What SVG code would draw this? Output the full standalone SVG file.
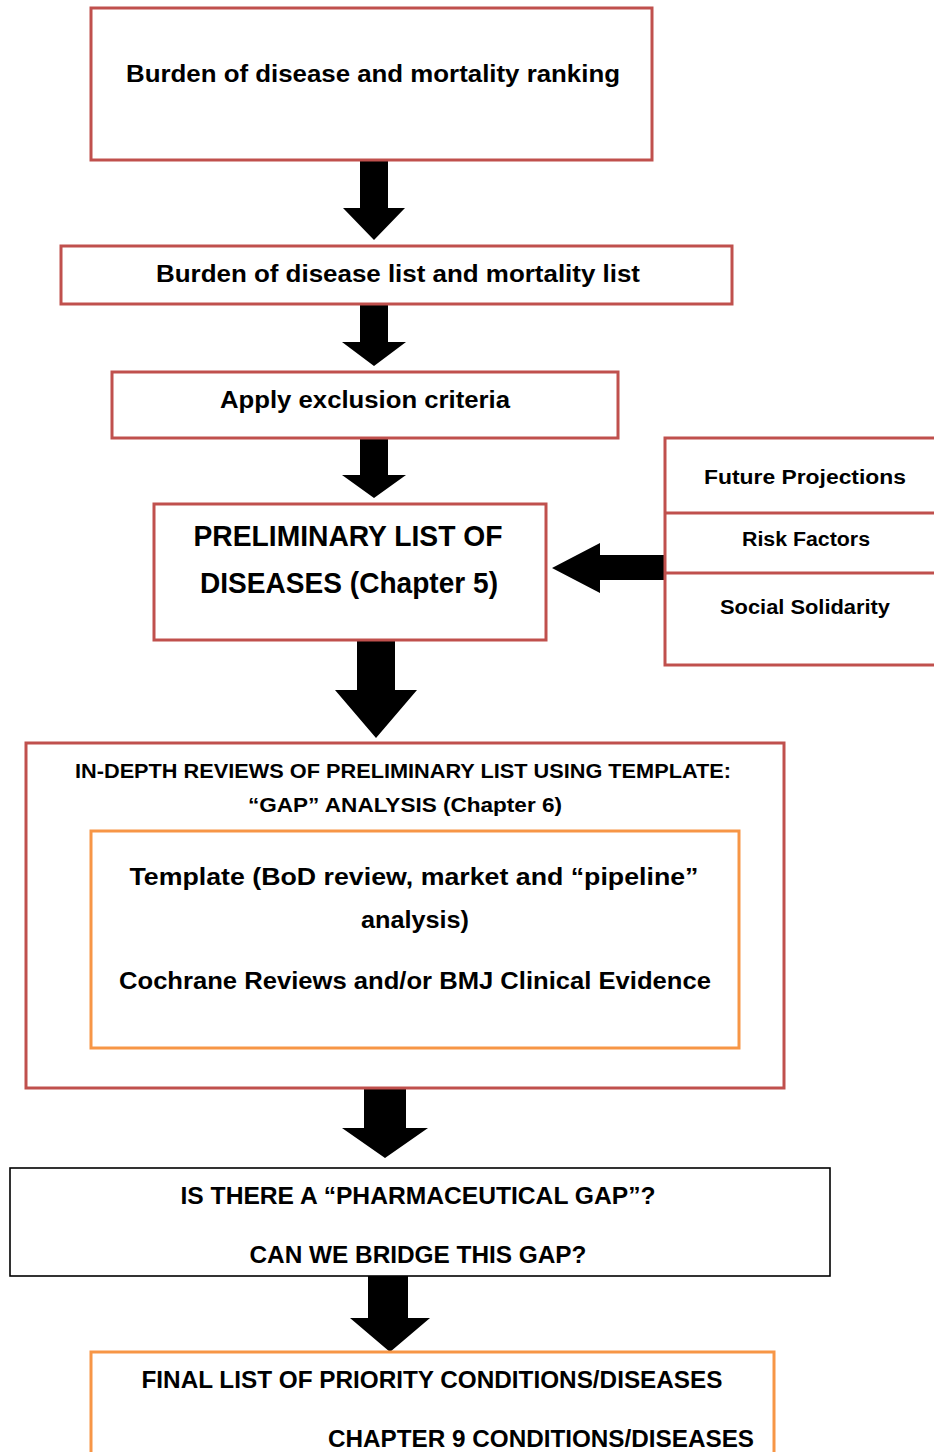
<svg xmlns="http://www.w3.org/2000/svg" width="934" height="1452" viewBox="0 0 934 1452">
<style>
.red{fill:#fff;stroke:#C0504D;stroke-width:3}
.org{fill:#fff;stroke:#F79646;stroke-width:3}
.blk{fill:#fff;stroke:#000;stroke-width:1.6}
.div{stroke:#C0504D;stroke-width:3}
text{font-family:"Liberation Sans",Arial,sans-serif;font-weight:bold;fill:#000;text-anchor:middle}
.arrow{fill:#000}
</style>
<rect width="934" height="1452" fill="#fff"/>
<g id="connectors">
<polygon class="arrow" points="360,160 388,160 388,208 405,208 374,240 343,208 360,208"/>
<polygon class="arrow" points="360,304 388,304 388,342 406,342 374,366 342,342 360,342"/>
<polygon class="arrow" points="360,438 388,438 388,475 406,475 374,498 342,475 360,475"/>
<polygon class="arrow" points="665,555 665,580 600,580 600,593 552,568 600,543 600,555"/>
<polygon class="arrow" points="357,640 395,640 395,690 417,690 376,738 335,690 357,690"/>
<polygon class="arrow" points="364,1088 406,1088 406,1128 428,1128 385,1158 342,1128 364,1128"/>
<polygon class="arrow" points="368,1276 408,1276 408,1318 430,1318 390,1352 350,1318 368,1318"/>
</g>
<g id="node-burden-ranking">
<rect class="red" x="91" y="8" width="561" height="152"/>
<text x="373" y="82" font-size="23.5" textLength="494" lengthAdjust="spacingAndGlyphs">Burden of disease and mortality ranking</text>
</g>
<g id="node-burden-list">
<rect class="red" x="61" y="246" width="671" height="58"/>
<text x="398" y="282" font-size="23.5" textLength="484" lengthAdjust="spacingAndGlyphs">Burden of disease list and mortality list</text>
</g>
<g id="node-exclusion">
<rect class="red" x="112" y="372" width="506" height="66"/>
<text x="365" y="408" font-size="23.5" textLength="290" lengthAdjust="spacingAndGlyphs">Apply exclusion criteria</text>
</g>
<g id="node-preliminary">
<rect class="red" x="154" y="504" width="392" height="136"/>
<text x="348" y="546" font-size="30" textLength="309" lengthAdjust="spacingAndGlyphs">PRELIMINARY LIST OF</text>
<text x="349" y="593" font-size="30" textLength="298" lengthAdjust="spacingAndGlyphs">DISEASES (Chapter 5)</text>
</g>
<g id="node-factors">
<rect class="red" x="665" y="438" width="300" height="227"/>
<line class="div" x1="665" y1="513" x2="934" y2="513"/>
<line class="div" x1="665" y1="573" x2="934" y2="573"/>
<text x="805" y="484" font-size="20" textLength="202" lengthAdjust="spacingAndGlyphs">Future Projections</text>
<text x="806" y="546" font-size="20" textLength="128" lengthAdjust="spacingAndGlyphs">Risk Factors</text>
<text x="805" y="614" font-size="20" textLength="170" lengthAdjust="spacingAndGlyphs">Social Solidarity</text>
</g>
<g id="node-indepth">
<rect class="red" x="26" y="743" width="758" height="345"/>
<text x="403" y="778" font-size="20" textLength="656" lengthAdjust="spacingAndGlyphs">IN-DEPTH REVIEWS OF PRELIMINARY LIST USING TEMPLATE:</text>
<text x="405" y="812" font-size="20" textLength="314" lengthAdjust="spacingAndGlyphs">“GAP” ANALYSIS (Chapter 6)</text>
</g>
<g id="node-template">
<rect class="org" x="91" y="831" width="648" height="217"/>
<text x="414" y="885" font-size="24.5" textLength="569" lengthAdjust="spacingAndGlyphs">Template (BoD review, market and “pipeline”</text>
<text x="415" y="928" font-size="24.5" textLength="108" lengthAdjust="spacingAndGlyphs">analysis)</text>
<text x="415" y="989" font-size="24.5" textLength="592" lengthAdjust="spacingAndGlyphs">Cochrane Reviews and/or BMJ Clinical Evidence</text>
</g>
<g id="node-gap">
<rect class="blk" x="10" y="1168" width="820" height="108"/>
<text x="418" y="1204" font-size="23.5" textLength="475" lengthAdjust="spacingAndGlyphs">IS THERE A “PHARMACEUTICAL GAP”?</text>
<text x="418" y="1263" font-size="23.5" textLength="337" lengthAdjust="spacingAndGlyphs">CAN WE BRIDGE THIS GAP?</text>
</g>
<g id="node-final">
<rect class="org" x="91" y="1352" width="683" height="200"/>
<text x="432" y="1388" font-size="23.5" textLength="581" lengthAdjust="spacingAndGlyphs">FINAL LIST OF PRIORITY CONDITIONS/DISEASES</text>
<text x="541" y="1447" font-size="23.5" textLength="426" lengthAdjust="spacingAndGlyphs">CHAPTER 9 CONDITIONS/DISEASES</text>
</g>
</svg>
